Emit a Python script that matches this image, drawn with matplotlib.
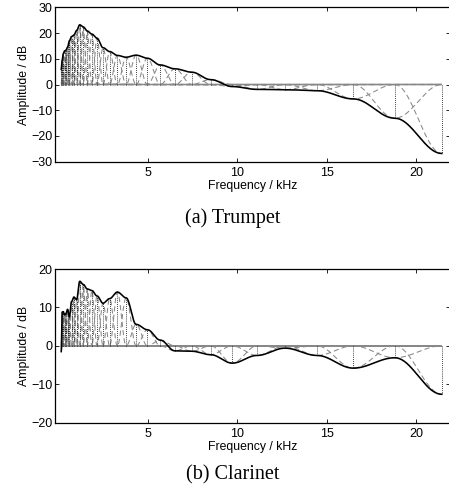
import numpy as np
import matplotlib.pyplot as plt

FIG_W, FIG_H, DPI = 4.49, 4.94, 100
LINE_GREY = "#888888"

# band centre frequencies in kHz (the dotted lines)
CENTRES = [0.161, 0.215, 0.276, 0.346, 0.426, 0.516, 0.619, 0.737, 0.870,
           1.023, 1.196, 1.393, 1.618, 1.874, 2.16, 2.50, 2.87, 3.30, 3.79,
           4.35, 4.98, 5.70, 6.52, 7.46, 8.52, 9.73, 11.11, 12.68, 14.47,
           16.50, 18.82, 21.45]

# band gains in dB
TRUMPET_GAIN = [6.0, 9.5, 12.0, 13.0, 13.3, 14.5, 17.0, 18.6, 19.2,
                21.0, 23.2, 22.4, 20.8, 19.6, 18.0, 14.3, 12.8, 11.3, 10.6,
                11.4, 10.2, 7.6, 6.1, 4.8, 1.9, -0.8, -1.9, -2.0, -2.4,
                -5.6, -13.1, -26.8]
CLARINET_GAIN = [-1.5, 8.8, 8.9, 8.0, 8.4, 9.5, 7.5, 11.5, 12.7,
                 12.0, 16.8, 16.0, 14.8, 14.4, 13.0, 11.1, 12.3, 14.0, 12.5,
                 5.6, 4.2, 1.5, -1.3, -1.4, -2.3, -4.5, -2.5, -0.6, -2.5,
                 -5.8, -3.1, -12.6]

PANELS = [
    ("(a) Trumpet", TRUMPET_GAIN, (-30, 30), [-30, -20, -10, 0, 10, 20, 30]),
    ("(b) Clarinet", CLARINET_GAIN, (-20, 20), [-20, -10, 0, 10, 20]),
]


def band_windows(freq, centres):
    # raised cosine between neighbouring centres
    c = np.asarray(centres)
    wins = np.zeros((len(c), len(freq)))
    for k in range(len(c)):
        if k > 0:
            m = (freq >= c[k - 1]) & (freq <= c[k])
            t = (freq[m] - c[k - 1]) / (c[k] - c[k - 1])
            wins[k, m] = 0.5 - 0.5 * np.cos(np.pi * t)
        if k < len(c) - 1:
            m = (freq >= c[k]) & (freq <= c[k + 1])
            t = (freq[m] - c[k]) / (c[k + 1] - c[k])
            wins[k, m] = 0.5 + 0.5 * np.cos(np.pi * t)
        else:
            wins[k, freq >= c[k]] = 1.0
    return wins


def draw_panel(axes, gains, ylim, yticks):
    freq = np.linspace(CENTRES[0], CENTRES[-1], 3000)
    wins = band_windows(freq, CENTRES)
    bands = np.asarray(gains)[:, None] * wins
    for b in bands:
        axes.plot(freq, b, color=LINE_GREY, lw=0.75, ls=(0, (5, 3)))
    for c, g in zip(CENTRES, gains):
        axes.plot([c, c], [0, g], color="black", lw=0.6, ls=(0, (1, 1.5)))
    axes.plot(freq, bands.sum(axis=0), color="black", lw=1.15)

    axes.set_xlim(-0.17, 21.88)
    axes.set_ylim(*ylim)
    axes.set_xticks([5, 10, 15, 20])
    axes.set_yticks(yticks)
    axes.set_yticklabels([str(t).replace("-", "\u2212") for t in yticks])
    axes.tick_params(direction="in", top=True, right=True, length=3,
                     width=0.6, labelsize=9, pad=2)
    axes.tick_params(axis="x", pad=3.5)
    for s in axes.spines.values():
        s.set_linewidth(0.9)
    axes.set_xlabel("Frequency / kHz", fontsize=8.8, labelpad=1)
    axes.set_ylabel("Amplitude / dB", fontsize=8.8, labelpad=1)


plt.rcParams["font.family"] = ["Liberation Sans", "DejaVu Sans"]
fig = plt.figure(figsize=(FIG_W, FIG_H), dpi=DPI)

boxes = [[55.3 / 449, 1 - 161.7 / 494, 394.2 / 449, 154.4 / 494],
         [55.3 / 449, 1 - 422.7 / 494, 394.2 / 449, 153.7 / 494]]
caption_y = [1 - 218 / 494, 1 - 475 / 494]

for (caption, gains, ylim, yticks), box, cy in zip(PANELS, boxes, caption_y):
    ax = fig.add_axes(box)
    draw_panel(ax, gains, ylim, yticks)
    fig.text(232.5 / 449, cy, caption, ha="center", va="center",
             fontsize=14.5, family="Liberation Serif")

fig.savefig("out.png", dpi=DPI)
